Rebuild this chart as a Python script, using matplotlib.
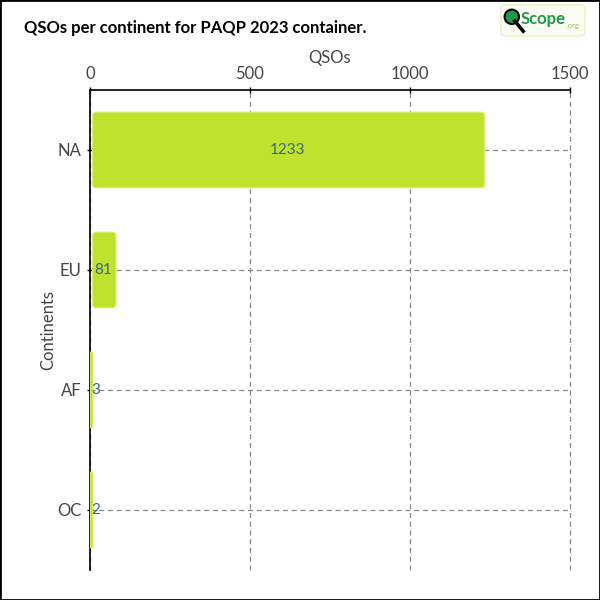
import matplotlib
matplotlib.use("Agg")
import matplotlib.pyplot as plt
from matplotlib.patches import FancyBboxPatch, Rectangle, Circle
from matplotlib.lines import Line2D

continents = ["NA", "EU", "AF", "OC"]
qsos = [1233, 81, 3, 2]
x_ticks = [0, 500, 1000, 1500]

bar_color = "#bfe22f"
label_color = "#3d6680"
text_color = "#444444"

plt.rcParams["font.family"] = ["Lato", "DejaVu Sans"]

fig = plt.figure(figsize=(6, 6), dpi=100)
ax = fig.add_axes([0.15, 0.05, 0.80, 0.80])

bars = ax.barh(range(len(continents)), qsos, height=0.63, color="none")
for b in bars:
    x, y = b.get_x(), b.get_y()
    w, h = b.get_width(), b.get_height()
    if w > 20:
        left, width = x + 8, w - 8
        r = 12
    else:
        left, width = x, 9
        r = 0.01
    ax.add_patch(FancyBboxPatch((left, y), width, h,
                                boxstyle="round,pad=0,rounding_size=%g" % r,
                                mutation_aspect=0.0027,
                                facecolor=bar_color, edgecolor="#d8ee70",
                                linewidth=0.8, zorder=3))

for i, v in enumerate(qsos):
    ax.text(max(v / 2, 18), i, str(v), ha="center", va="center",
            color=label_color, fontsize=11, zorder=4)

ax.set_xlim(0, 1500)
ax.set_ylim(3.5, -0.5)
ax.set_yticks(range(len(continents)))
ax.set_yticklabels(continents)
ax.set_xticks(x_ticks)
ax.xaxis.tick_top()
ax.xaxis.set_label_position("top")
ax.set_xlabel("QSOs", fontsize=12, color=text_color, labelpad=2)
ax.set_ylabel("Continents", fontsize=12, color=text_color, labelpad=1)

ax.tick_params(axis="both", labelsize=12, labelcolor=text_color, length=5,
               direction="inout", width=1)

ax.grid(True, linestyle=(0, (4, 3)), color="#888888", linewidth=0.9, zorder=0)
for gl in ax.get_xgridlines() + ax.get_ygridlines():
    gl.set_clip_on(False)
ax.set_axisbelow(True)
for s in ["right", "bottom"]:
    ax.spines[s].set_visible(False)
for s in ["top", "left"]:
    ax.spines[s].set_color("black")
    ax.spines[s].set_linewidth(1.2)

fig.text(0.04, 0.953, "QSOs per continent for PAQP 2023 container.",
         fontsize=12, color="black", va="center", fontweight="bold")

# logo
fig.patches.append(FancyBboxPatch((0.835, 0.94), 0.14, 0.052,
                                  boxstyle="round,pad=0,rounding_size=0.008",
                                  transform=fig.transFigure, facecolor="#fbfdf2",
                                  edgecolor="#e8f2c0", linewidth=1))
fig.lines.append(Line2D([0.858, 0.872], [0.965, 0.948], transform=fig.transFigure,
                        color="black", linewidth=2.5))
fig.patches.append(Circle((0.853, 0.972), 0.012, transform=fig.transFigure,
                          facecolor="#1f9a4a", edgecolor="black", linewidth=1.5))
fig.text(0.868, 0.968, "Scope", fontsize=12, color="#1f9a4a", va="center",
         fontweight="bold")
fig.text(0.944, 0.958, ".org", fontsize=5.5, color="#8cc63f", va="center")

# figure border
fig.patches.append(Rectangle((0, 0), 1, 1, transform=fig.transFigure, fill=False,
                             edgecolor="black", linewidth=2))

fig.savefig("out.png", dpi=100)
